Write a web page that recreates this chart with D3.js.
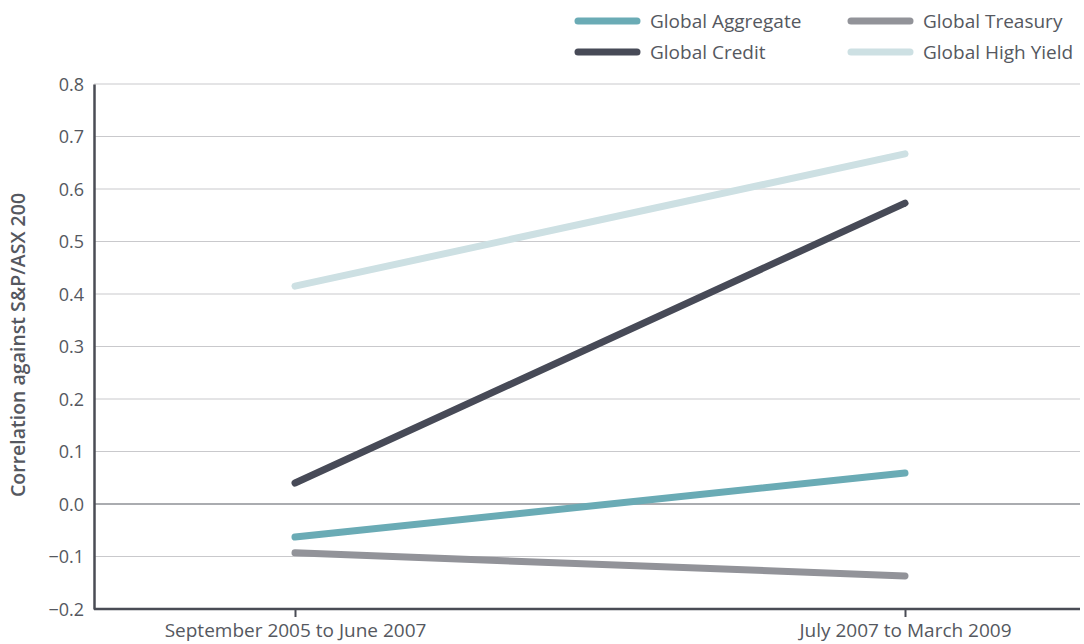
<!DOCTYPE html>
<html>
<head>
<meta charset="utf-8">
<script src="https://cdn.jsdelivr.net/npm/d3@7"></script>
<style>
  body { margin: 0; background: #fff; }
  text { font-family: "Open Sans", Lato, sans-serif; fill: #555860; }
</style>
</head>
<body>
<div class="chart"></div>
<script>
const categories = ['September 2005 to June 2007', 'July 2007 to March 2009'];
const seriesNames = ['Global Aggregate', 'Global Treasury', 'Global Credit', 'Global High Yield'];
const aggregate = [-0.063, 0.059];
const treasury = [-0.093, -0.137];
const credit = [0.040, 0.573];
const highYield = [0.415, 0.667];
const yTicks = [-0.2, -0.1, 0.0, 0.1, 0.2, 0.3, 0.4, 0.5, 0.6, 0.7, 0.8];

const colors = ['#6aabb5', '#929399', '#474a57', '#cde0e3'];
const series = [aggregate, treasury, credit, highYield];

const W = 1084, H = 644;
const margin = { top: 84, right: 4, bottom: 35, left: 94 };
const width = W - margin.left - margin.right;
const height = H - margin.top - margin.bottom;

const svg = d3.select('.chart').append('svg')
    .attr('width', W).attr('height', H);
const g = svg.append('g')
    .attr('transform', 'translate(' + margin.left + ',' + margin.top + ')');

const x = d3.scalePoint().domain(categories).range([201, 811]);
const y = d3.scaleLinear().domain([-0.2, 0.8]).range([height, 0]);

// gridlines
g.append('g').selectAll('line').data(yTicks.slice(1)).join('line')
    .attr('x1', 0).attr('x2', width)
    .attr('y1', d => y(d)).attr('y2', d => y(d))
    .attr('stroke', d => d === 0 ? '#8e9096' : '#c9c9cc')
    .attr('stroke-width', d => d === 0 ? 1.5 : 1);

// y axis
const yAxis = g.append('g')
    .call(d3.axisLeft(y).tickValues(yTicks).tickFormat(d3.format('.1f')).tickSize(0).tickPadding(10));
yAxis.select('.domain').attr('stroke', '#4a4c55').attr('stroke-width', 2.5);
yAxis.selectAll('text').attr('font-size', 18).attr('fill', '#555860')
    .attr('font-family', '"Open Sans", sans-serif').attr('dy', '0.35em');

// x axis
const xAxis = g.append('g').attr('transform', 'translate(0,' + height + ')')
    .call(d3.axisBottom(x).tickSize(8).tickPadding(7).tickSizeOuter(0));
xAxis.select('.domain').attr('stroke', '#4a4c55').attr('stroke-width', 2.5)
    .attr('d', 'M0,0H' + width);
xAxis.selectAll('.tick line').attr('stroke', '#4a4c55').attr('stroke-width', 2);
xAxis.selectAll('text').attr('font-size', 19).attr('fill', '#555860')
    .attr('font-family', '"Open Sans", sans-serif');

// y title
svg.append('text')
    .attr('transform', 'translate(25,345) rotate(-90)')
    .attr('text-anchor', 'middle')
    .attr('font-size', 19.5)
    .attr('font-weight', 600)
    .text('Correlation against S&P/ASX 200');

// lines
const line = d3.line().x((d, i) => x(categories[i])).y(d => y(d));
g.selectAll('.series').data(series).join('path')
    .attr('class', 'series')
    .attr('d', line)
    .attr('fill', 'none')
    .attr('stroke', (d, i) => colors[i])
    .attr('stroke-width', 7)
    .attr('stroke-linecap', 'round');

// legend
const legendPos = [[575, 21], [848, 21], [575, 52], [848, 52]];
const legend = svg.append('g');
seriesNames.forEach((name, i) => {
    const [lx, ly] = legendPos[i];
    legend.append('line')
        .attr('x1', lx + 3).attr('x2', lx + 62)
        .attr('y1', ly).attr('y2', ly)
        .attr('stroke', colors[i]).attr('stroke-width', 7)
        .attr('stroke-linecap', 'round');
    legend.append('text')
        .attr('x', lx + 75).attr('y', ly + 6.5)
        .attr('font-size', 19)
        .text(name);
});
</script>
</body>
</html>
